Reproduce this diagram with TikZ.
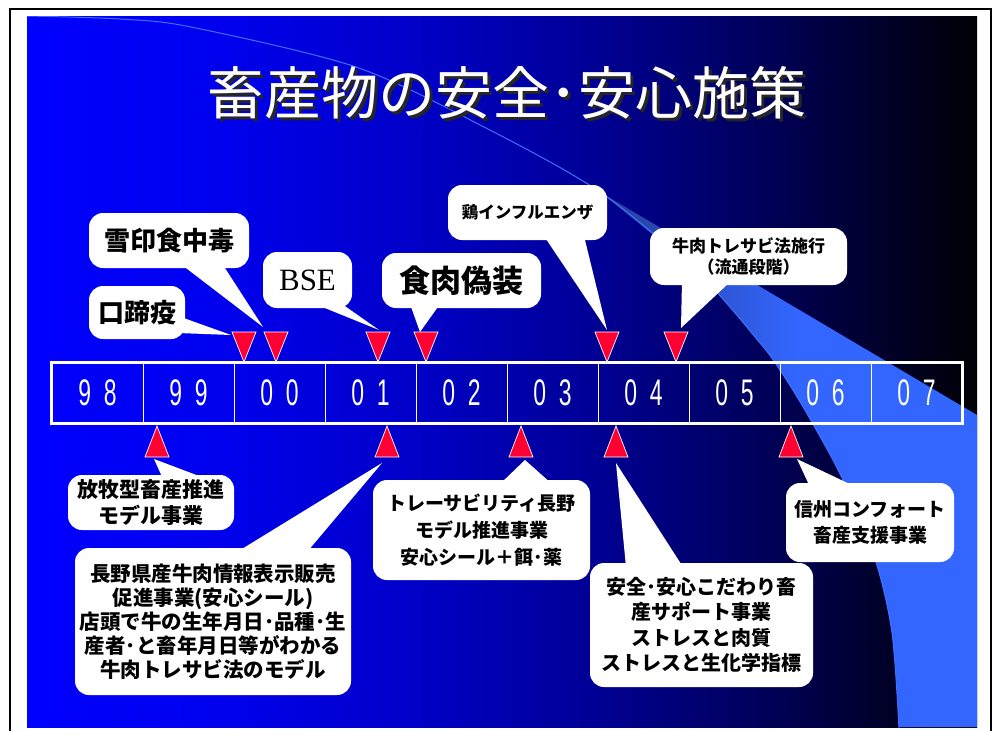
\documentclass[tikz,border=0pt]{standalone}
\usepackage{fontspec}
\usepackage{graphicx}
\newfontfamily\jp{Noto Sans CJK JP}
\newfontfamily\numfont{Liberation Sans}
\newfontfamily\serfont{Liberation Serif}
\definecolor{trired}{HTML}{FF0033}
\definecolor{arcblue}{HTML}{4070FF}
\pgfdeclarehorizontalshading{bgshade}{100bp}{rgb(0bp)=(0,0,1); rgb(25bp)=(0,0,1); rgb(35bp)=(0,0,0.935); rgb(45bp)=(0,0,0.79); rgb(55bp)=(0,0,0.58); rgb(65bp)=(0,0,0.316); rgb(70bp)=(0,0,0.164); rgb(75bp)=(0,0,0.02); rgb(100bp)=(0,0,0.02)}
\pgfdeclarehorizontalshading{bandshade}{100bp}{rgb(0bp)=(0.14,0.24,0.58); rgb(25bp)=(0.14,0.24,0.58); rgb(51bp)=(0.2,0.4,1); rgb(100bp)=(0.2,0.4,1)}
\newcommand\yrnum[2]{\scalebox{0.62}[1]{\numfont\fontsize{37}{37}\selectfont #1\hspace{0.55em}#2}}
\begin{document}
\begin{tikzpicture}[x=1pt,y=-1pt,
  bubble/.style={fill=white, rounded corners=14pt, inner sep=0pt, align=center, text=black},
  tailfill/.style={fill=white},
  cell/.style={draw=white, line width=0.8pt, minimum width=91pt, minimum height=60pt, inner sep=0pt, text=white},
  redtri/.style={fill=trired, draw=white, line width=0.7pt, line join=miter},
  thinarc/.style={draw=arcblue, line width=1pt},
  big/.style={font=\jp\bfseries\fontsize{26}{30}\selectfont},
  huge/.style={font=\jp\bfseries\fontsize{31}{34}\selectfont},
  small/.style={font=\jp\bfseries\fontsize{16.5}{21}\selectfont},
  mid/.style={font=\jp\bfseries\fontsize{20.5}{26}\selectfont}]
\useasboundingbox (0,0) rectangle (997,731);
\fill[white] (0,0) rectangle (997,731);
\draw[black, line width=2pt] (10,745) -- (10,9) -- (991,9) -- (991,745);
\shade[shading=bgshade] (27,16) rectangle (977,727);
\begin{scope}
\clip (27,16) rectangle (977,727);
\shade[shading=bandshade] (600,192) -- (977,415) -- (977,727) -- (899,727)
  -- plot[smooth] coordinates {(899,727) (892,633) (875,559) (842,478) (806,412) (780,370) (760,343) (700,275) (600,192)} -- cycle;
\draw[thinarc] plot[smooth] coordinates {(27,16) (120,19) (191,27) (356,67) (484,127) (600,192) (700,275) (760,343) (780,370) (806,412) (842,478) (875,559) (892,633) (899,729)};
\end{scope}

% title
\node[font=\jp\fontsize{57}{60}\selectfont, text=black!85] (tshadow) at (510,96) {畜産物の安全･安心施策};
\node[font=\jp\fontsize{57}{60}\selectfont, text=white] (title) at (507,93) {畜産物の安全･安心施策};

% timeline
\foreach \a/\b [count=\i from 0] in {9/8,9/9,0/0,0/1,0/2,0/3,0/4,0/5,0/6,0/7}{
  \node[cell] (c\i) at ({97.5+91*\i},393) {\yrnum{\a}{\b}};
}
\draw[white, line width=2.5pt] (c0.north west) rectangle (c9.south east);

% triangles above (pointing down)
\foreach \x [count=\i] in {244,276,378,426,607,676}{
  \coordinate (td\i) at (\x,362);
  \filldraw[redtri] (td\i) -- ++(-12,-30) -- ++(24,0) -- cycle;
}
% triangles below (pointing up)
\foreach \x [count=\i] in {157,387,521,616,791}{
  \coordinate (tu\i) at (\x,426);
  \filldraw[redtri] (tu\i) -- ++(-12,31) -- ++(24,0) -- cycle;
}

% upper bubbles
\node[bubble, big, minimum width=96pt, minimum height=53pt] (b1) at (137,312.5) {口蹄疫};
\coordinate (k1) at (231,335);
\fill[tailfill] (178,316) -- (k1) -- (178,333) -- cycle;

\node[bubble, big, minimum width=160pt, minimum height=55pt] (b2) at (169,240.5) {雪印食中毒};
\coordinate (k2) at (263,327);
\fill[tailfill] (182,265) -- (k2) -- (223,265) -- cycle;

\node[bubble, font=\serfont\fontsize{31}{34}\selectfont, minimum width=89pt, minimum height=56pt] (b3) at (307.5,280) {BSE};
\coordinate (k3) at (379,330);
\fill[tailfill] (315,304) -- (k3) -- (342,304) -- cycle;

\node[bubble, huge, minimum width=159pt, minimum height=55pt] (b4) at (461.5,280.5) {食肉偽装};
\coordinate (k4) at (420,332);
\fill[tailfill] (410,304) -- (k4) -- (440,304) -- cycle;

\node[bubble, small, minimum width=159pt, minimum height=55pt] (b5) at (527.5,212.5) {鶏インフルエンザ};
\coordinate (k5) at (607,330);
\fill[tailfill] (544,236) -- (k5) -- (584,236) -- cycle;

\node[bubble, font=\jp\bfseries\fontsize{17}{21}\selectfont, minimum width=197pt, minimum height=57pt] (b6) at (748.5,256.5) {牛肉トレサビ法施行\\（流通段階）};
\coordinate (k6) at (681,328);
\fill[tailfill] (682,281) -- (k6) -- (731,281) -- cycle;

% lower bubbles
\node[bubble, font=\jp\bfseries\fontsize{21}{26}\selectfont, minimum width=166pt, minimum height=55pt] (ba) at (151,502.5) {放牧型畜産推進\\モデル事業};
\coordinate (ka) at (154,459);
\fill[tailfill] (163,479) -- (ka) -- (207,479) -- cycle;

\node[bubble, font=\jp\bfseries\fontsize{20.5}{24}\selectfont, minimum width=276pt, minimum height=147pt] (bb) at (213,621.5) {長野県産牛肉情報表示販売\\促進事業(安心シール)\\店頭で牛の生年月日･品種･生\\産者･と畜年月日等がわかる\\牛肉トレサビ法のモデル};
\coordinate (kb) at (382,463);
\fill[tailfill] (237,552) -- (kb) -- (307,552) -- cycle;

\node[bubble, font=\jp\bfseries\fontsize{19}{27}\selectfont, minimum width=217pt, minimum height=100pt] (bc) at (481.5,530) {トレーサビリティ長野\\モデル推進事業\\安心シール＋餌･薬};
\coordinate (kc) at (525,460);
\fill[tailfill] (500,484) -- (kc) -- (552,484) -- cycle;

\node[bubble, font=\jp\bfseries\fontsize{20}{25.5}\selectfont, minimum width=223pt, minimum height=124pt] (bd) at (701.5,625) {安全･安心こだわり畜\\産サポート事業\\ストレスと肉質\\ストレスと生化学指標};
\coordinate (kd) at (616,463);
\fill[tailfill] (626,567) -- (kd) -- (683,567) -- cycle;

\node[bubble, font=\jp\bfseries\fontsize{19}{25.5}\selectfont, minimum width=168pt, minimum height=79pt] (be) at (870,522.5) {信州コンフォート\\畜産支援事業};
\coordinate (ke) at (797,459);
\fill[tailfill] (810,487) -- (ke) -- (856,487) -- cycle;
\end{tikzpicture}
\end{document}
